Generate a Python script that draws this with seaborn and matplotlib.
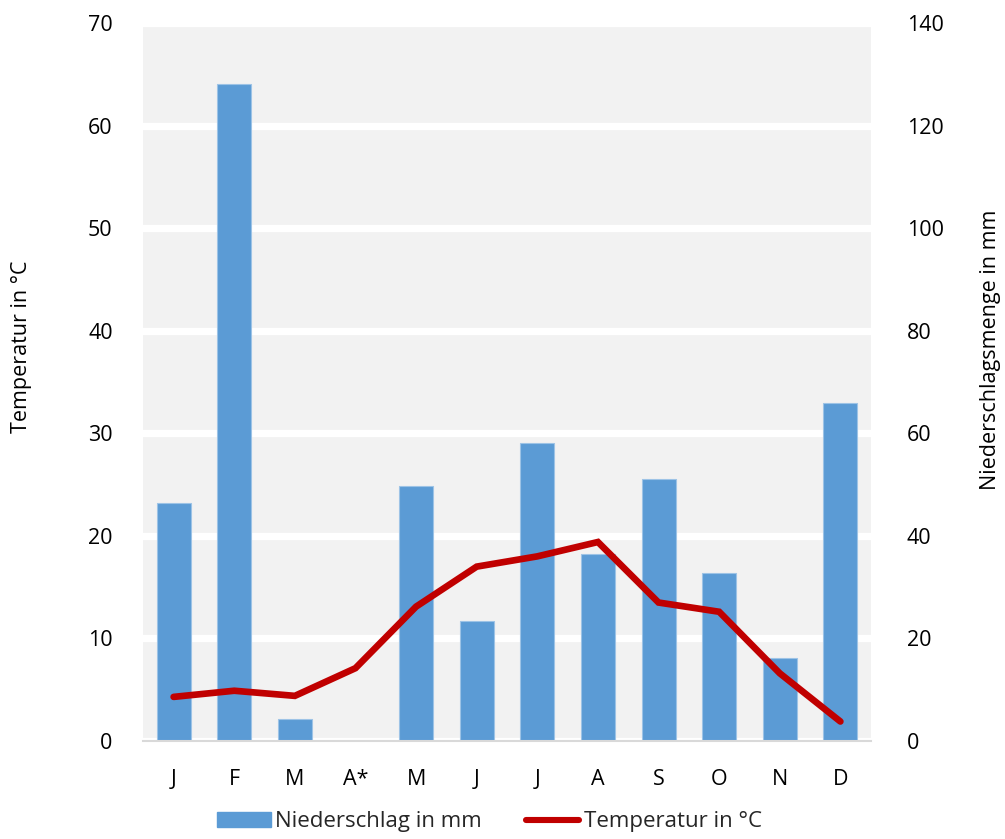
import matplotlib
matplotlib.use("Agg")
import matplotlib.pyplot as plt
import seaborn as sns
import pandas as pd
from matplotlib.patches import Patch
from matplotlib.lines import Line2D

months = ["J", "F", "M", "A*", "M", "J", "J", "A", "S", "O", "N", "D"]
precip_mm = [46.5, 128.1, 4.2, 0.0, 49.7, 23.4, 58.2, 36.5, 51.0, 32.8, 16.2, 65.9]
temp_c = [4.3, 4.9, 4.4, 7.1, 13.1, 17.0, 18.0, 19.4, 13.5, 12.6, 6.6, 1.9]

df = pd.DataFrame({"idx": list(range(len(months))), "precip": precip_mm, "temp": temp_c})

sns.set_theme(style="white")
plt.rcParams["font.family"] = ["Open Sans", "DejaVu Sans"]

BAR = "#5B9BD5"
RED = "#C00000"
TXT = "#000000"
FS = 15.5

fig = plt.figure(figsize=(10.05, 8.39), dpi=100)
ax = fig.add_axes([143.3 / 1005, 1 - 741 / 839, (870.7 - 143.3) / 1005, (741 - 23) / 839])
ax.set_facecolor("#F2F2F2")

sns.barplot(data=df, x="idx", y="precip", ax=ax, color=BAR, width=0.56, saturation=1,
            edgecolor="#9DC3E6", linewidth=0.8)
ax.set_ylim(0, 140)
ax.set_xlim(-0.5, len(months) - 0.5)
ax.set_yticks(range(0, 141, 20))
ax.grid(axis="y", color="white", linewidth=5.2)
ax.set_axisbelow(True)
ax.set_xlabel("")
ax.set_ylabel("")
for s in ["top", "left", "right"]:
    ax.spines[s].set_visible(False)
ax.spines["bottom"].set_color("#D9D9D9")
ax.spines["bottom"].set_linewidth(1.5)
ax.set_xticks(range(len(months)))
ax.set_xticklabels(months)
ax.set_xticks([i - 0.5 for i in range(len(months) + 1)], minor=True)
ax.tick_params(axis="x", which="major", length=0, pad=20, labelsize=FS, labelcolor=TXT)
ax.tick_params(axis="x", which="minor", length=7, width=1.5, color="#D9D9D9", direction="out")

ax2 = ax.twinx()
sns.lineplot(data=df, x="idx", y="temp", ax=ax2, color=RED, linewidth=4.8,
             solid_joinstyle="miter", solid_capstyle="round")
ax2.set_ylim(0, 70)
ax2.set_yticks(range(0, 71, 10))
ax2.set_xlim(-0.5, len(months) - 0.5)
ax2.set_xlabel("")
ax2.set_ylabel("")
for s in ["top", "left", "right", "bottom"]:
    ax2.spines[s].set_visible(False)
ax2.grid(False)

# precipitation ticks on the right, temperature ticks on the left
ax.yaxis.tick_right()
ax2.yaxis.tick_left()
ax.tick_params(axis="y", which="both", left=False, labelleft=False, right=False,
               labelright=True, length=0, pad=26, labelsize=FS, labelcolor=TXT)
ax2.tick_params(axis="y", which="both", right=False, labelright=False, left=False,
                labelleft=True, length=0, pad=22, labelsize=FS, labelcolor=TXT)

fig.text(22 / 1005, 1 - 347 / 839, "Temperatur in °C", rotation=90, ha="center", va="center",
         fontsize=FS, color=TXT)
fig.text(990 / 1005, 1 - 350 / 839, "Niederschlagsmenge in mm", rotation=90, ha="center",
         va="center", fontsize=FS, color=TXT)

handles = [Patch(facecolor=BAR, edgecolor=BAR), Line2D([0], [0], color=RED, linewidth=4.4,
                                                       solid_capstyle="round")]
fig.legend(handles, ["Niederschlag in mm", "Temperatur in °C"], loc="center",
           bbox_to_anchor=(489.5 / 1005, 1 - 822 / 839), ncol=2, frameon=False,
           fontsize=16, handlelength=2.4, handletextpad=0.22, columnspacing=1.95,
           handleheight=0.63, borderpad=0, borderaxespad=0)

fig.savefig("out.png", dpi=100)
